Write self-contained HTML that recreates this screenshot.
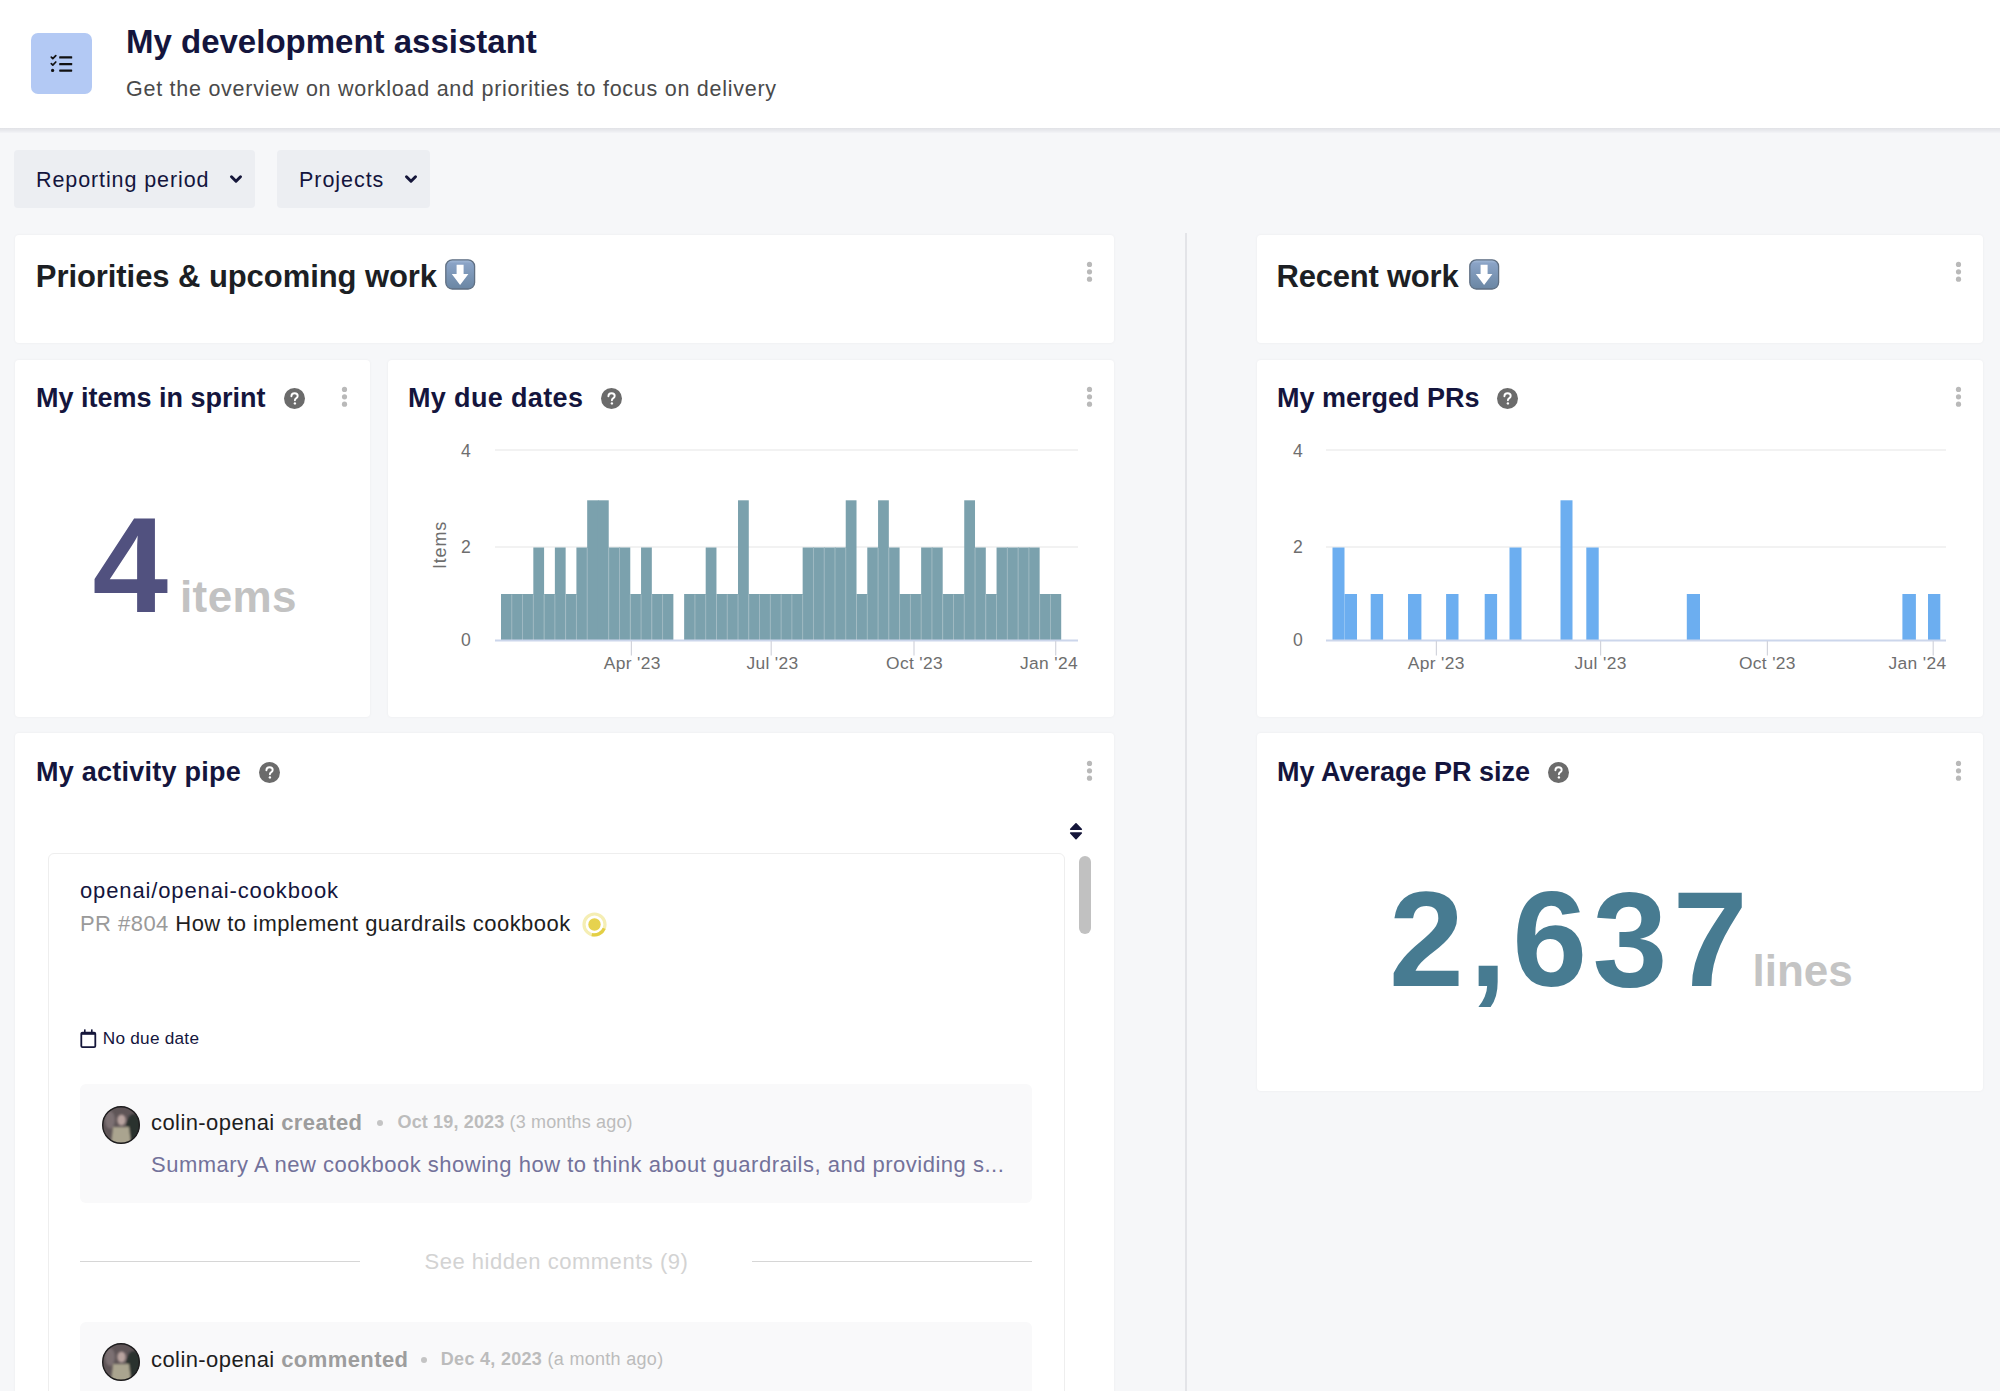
<!DOCTYPE html>
<html><head><meta charset="utf-8"><title>My development assistant</title>
<style>
html,body{margin:0;padding:0;}
body{width:2000px;height:1391px;overflow:hidden;position:relative;background:#f6f7f9;font-family:"Liberation Sans",sans-serif;}
.abs{position:absolute;}
.t{position:absolute;white-space:nowrap;line-height:1;}
.card{position:absolute;background:#fff;border-radius:4px;box-shadow:0 0 3px rgba(0,0,0,0.05);}
</style></head><body>
<div class="abs" style="left:0;top:128px;width:2000px;height:5px;background:linear-gradient(#e1e2e6,#e9eaee 50%,#f3f4f7);"></div><div class="abs" style="left:0;top:0;width:2000px;height:128px;background:#fff;"></div><div class="abs" style="left:31px;top:33px;width:61px;height:61px;border-radius:7px;background:#b3c9f4;"></div><svg class="abs" style="left:48px;top:52px" width="26" height="24" viewBox="0 0 26 24"><path d="M3.3 5.2 L4.8 6.7 L7.8 3.6" stroke="#111" stroke-width="1.7" fill="none" stroke-linecap="round" stroke-linejoin="round"/><path d="M3.3 11.6 L4.8 13.1 L7.8 10" stroke="#111" stroke-width="1.7" fill="none" stroke-linecap="round" stroke-linejoin="round"/><circle cx="4.6" cy="18.4" r="1.6" fill="#111"/><rect x="11.2" y="4.2" width="13" height="2.3" rx="0.6" fill="#111"/><rect x="11.2" y="11" width="13" height="2.3" rx="0.6" fill="#111"/><rect x="11.2" y="17.4" width="13" height="2.3" rx="0.6" fill="#111"/></svg><div class="t" style="left:126px;top:25.06px;font-size:33px;font-weight:700;color:#14153d;letter-spacing:0px;">My development assistant</div><div class="t" style="left:126px;top:79.30px;font-size:21.5px;font-weight:400;color:#4a4a4a;letter-spacing:0.74px;">Get the overview on workload and priorities to focus on delivery</div><div class="abs" style="left:14px;top:150px;width:241px;height:58px;border-radius:4px;background:#eceef2;"></div><div class="abs" style="left:277px;top:150px;width:153px;height:58px;border-radius:4px;background:#eceef2;"></div><div class="t" style="left:36px;top:169.60px;font-size:21.5px;font-weight:400;color:#14153d;letter-spacing:0.9px;">Reporting period</div><svg class="abs" style="left:229px;top:174px" width="14" height="10" viewBox="0 0 14 10"><path d="M2.5 2.8 L7 7.2 L11.5 2.8" stroke="#15163a" stroke-width="3" fill="none" stroke-linecap="round" stroke-linejoin="round"/></svg><div class="t" style="left:299px;top:169.60px;font-size:21.5px;font-weight:400;color:#14153d;letter-spacing:0.95px;">Projects</div><svg class="abs" style="left:404px;top:174px" width="14" height="10" viewBox="0 0 14 10"><path d="M2.5 2.8 L7 7.2 L11.5 2.8" stroke="#15163a" stroke-width="3" fill="none" stroke-linecap="round" stroke-linejoin="round"/></svg><div class="abs" style="left:1185px;top:233px;width:2px;height:1160px;background:#e3e4e8;"></div><div class="card" style="left:15px;top:234.5px;width:1099px;height:108.5px;"></div><div class="t" style="left:35.8px;top:260.75px;font-size:31px;font-weight:700;color:#1c1f24;letter-spacing:-0.07px;">Priorities &amp; upcoming work</div><svg class="abs" style="left:445px;top:259px" width="31" height="31" viewBox="0 0 31 31"><defs><linearGradient id="eg445" x1="0" y1="0" x2="0" y2="1"><stop offset="0" stop-color="#a9bfdc"/><stop offset="0.12" stop-color="#8aa3c6"/><stop offset="1" stop-color="#6a86a3"/></linearGradient></defs><rect x="0.8" y="0.8" width="28.8" height="29.2" rx="6.5" fill="url(#eg445)" stroke="#5f6f82" stroke-width="1.3"/><path d="M11.6 5.8 H18.6 V15 H23.4 L15.1 26 L6.8 15 H11.6 Z" fill="#fff"/></svg><svg class="abs" style="left:1085px;top:260px" width="8" height="24" viewBox="0 0 8 24"><circle cx="4.5" cy="4.4" r="2.6" fill="#b9b9b9"/><circle cx="4.5" cy="11.8" r="2.6" fill="#b9b9b9"/><circle cx="4.5" cy="19.2" r="2.6" fill="#b9b9b9"/></svg><div class="card" style="left:1257px;top:234.5px;width:726px;height:108.5px;"></div><div class="t" style="left:1276.5px;top:260.75px;font-size:31px;font-weight:700;color:#1c1f24;letter-spacing:-0.22px;">Recent work</div><svg class="abs" style="left:1469px;top:259px" width="31" height="31" viewBox="0 0 31 31"><defs><linearGradient id="eg1469" x1="0" y1="0" x2="0" y2="1"><stop offset="0" stop-color="#a9bfdc"/><stop offset="0.12" stop-color="#8aa3c6"/><stop offset="1" stop-color="#6a86a3"/></linearGradient></defs><rect x="0.8" y="0.8" width="28.8" height="29.2" rx="6.5" fill="url(#eg1469)" stroke="#5f6f82" stroke-width="1.3"/><path d="M11.6 5.8 H18.6 V15 H23.4 L15.1 26 L6.8 15 H11.6 Z" fill="#fff"/></svg><svg class="abs" style="left:1954px;top:260px" width="8" height="24" viewBox="0 0 8 24"><circle cx="4.5" cy="4.4" r="2.6" fill="#b9b9b9"/><circle cx="4.5" cy="11.8" r="2.6" fill="#b9b9b9"/><circle cx="4.5" cy="19.2" r="2.6" fill="#b9b9b9"/></svg><div class="card" style="left:15px;top:360px;width:355px;height:357px;"></div><div class="t" style="left:36px;top:384.94px;font-size:27px;font-weight:700;color:#14153d;letter-spacing:0px;">My items in sprint</div><svg class="abs" style="left:283.5px;top:387.5px" width="21.0" height="21.0" viewBox="0 0 21 21"><circle cx="10.5" cy="10.5" r="10.5" fill="#6b6b6b"/><path d="M7.4 8.2 C7.4 6.3 8.8 5.2 10.6 5.2 C12.5 5.2 13.7 6.4 13.7 7.9 C13.7 9.2 12.9 9.8 12 10.4 C11.2 10.9 10.9 11.3 10.9 12.3" stroke="#fff" stroke-width="1.9" fill="none" stroke-linecap="round"/><circle cx="10.9" cy="15.4" r="1.2" fill="#fff"/></svg><svg class="abs" style="left:340px;top:385px" width="8" height="24" viewBox="0 0 8 24"><circle cx="4.5" cy="4.4" r="2.6" fill="#b9b9b9"/><circle cx="4.5" cy="11.8" r="2.6" fill="#b9b9b9"/><circle cx="4.5" cy="19.2" r="2.6" fill="#b9b9b9"/></svg><div class="t" style="left:92.5px;top:497.15px;font-size:136px;font-weight:700;color:#51517f;letter-spacing:0px;">4</div><div class="t" style="left:180px;top:575.05px;font-size:44px;font-weight:700;color:#c2c2c2;letter-spacing:0.4px;">items</div><div class="card" style="left:388px;top:360px;width:726px;height:357px;"></div><div class="t" style="left:408px;top:384.94px;font-size:27px;font-weight:700;color:#14153d;letter-spacing:0.35px;">My due dates</div><svg class="abs" style="left:600.5px;top:387.5px" width="21.0" height="21.0" viewBox="0 0 21 21"><circle cx="10.5" cy="10.5" r="10.5" fill="#6b6b6b"/><path d="M7.4 8.2 C7.4 6.3 8.8 5.2 10.6 5.2 C12.5 5.2 13.7 6.4 13.7 7.9 C13.7 9.2 12.9 9.8 12 10.4 C11.2 10.9 10.9 11.3 10.9 12.3" stroke="#fff" stroke-width="1.9" fill="none" stroke-linecap="round"/><circle cx="10.9" cy="15.4" r="1.2" fill="#fff"/></svg><svg class="abs" style="left:1085px;top:385px" width="8" height="24" viewBox="0 0 8 24"><circle cx="4.5" cy="4.4" r="2.6" fill="#b9b9b9"/><circle cx="4.5" cy="11.8" r="2.6" fill="#b9b9b9"/><circle cx="4.5" cy="19.2" r="2.6" fill="#b9b9b9"/></svg><div class="card" style="left:1257px;top:360px;width:726px;height:357px;"></div><div class="t" style="left:1277px;top:384.94px;font-size:27px;font-weight:700;color:#14153d;letter-spacing:0px;">My merged PRs</div><svg class="abs" style="left:1496.5px;top:387.5px" width="21.0" height="21.0" viewBox="0 0 21 21"><circle cx="10.5" cy="10.5" r="10.5" fill="#6b6b6b"/><path d="M7.4 8.2 C7.4 6.3 8.8 5.2 10.6 5.2 C12.5 5.2 13.7 6.4 13.7 7.9 C13.7 9.2 12.9 9.8 12 10.4 C11.2 10.9 10.9 11.3 10.9 12.3" stroke="#fff" stroke-width="1.9" fill="none" stroke-linecap="round"/><circle cx="10.9" cy="15.4" r="1.2" fill="#fff"/></svg><svg class="abs" style="left:1954px;top:385px" width="8" height="24" viewBox="0 0 8 24"><circle cx="4.5" cy="4.4" r="2.6" fill="#b9b9b9"/><circle cx="4.5" cy="11.8" r="2.6" fill="#b9b9b9"/><circle cx="4.5" cy="19.2" r="2.6" fill="#b9b9b9"/></svg><div class="card" style="left:15px;top:733px;width:1099px;height:687px;"></div><div class="t" style="left:36px;top:759.14px;font-size:27px;font-weight:700;color:#14153d;letter-spacing:0.25px;">My activity pipe</div><svg class="abs" style="left:259.0px;top:762.0px" width="21.0" height="21.0" viewBox="0 0 21 21"><circle cx="10.5" cy="10.5" r="10.5" fill="#6b6b6b"/><path d="M7.4 8.2 C7.4 6.3 8.8 5.2 10.6 5.2 C12.5 5.2 13.7 6.4 13.7 7.9 C13.7 9.2 12.9 9.8 12 10.4 C11.2 10.9 10.9 11.3 10.9 12.3" stroke="#fff" stroke-width="1.9" fill="none" stroke-linecap="round"/><circle cx="10.9" cy="15.4" r="1.2" fill="#fff"/></svg><svg class="abs" style="left:1085px;top:759px" width="8" height="24" viewBox="0 0 8 24"><circle cx="4.5" cy="4.4" r="2.6" fill="#b9b9b9"/><circle cx="4.5" cy="11.8" r="2.6" fill="#b9b9b9"/><circle cx="4.5" cy="19.2" r="2.6" fill="#b9b9b9"/></svg><svg class="abs" style="left:1068px;top:821px" width="16" height="20" viewBox="0 0 16 20"><path d="M8 2.8 L13.3 8.2 H2.7 Z" fill="#15163a" stroke="#15163a" stroke-width="1.6" stroke-linejoin="round"/><path d="M8 17.6 L13.3 12 H2.7 Z" fill="#15163a" stroke="#15163a" stroke-width="1.6" stroke-linejoin="round"/></svg><div class="abs" style="left:1079px;top:856px;width:12px;height:78px;border-radius:6px;background:#c1c1c1;"></div><div class="abs" style="left:48px;top:853px;width:1017px;height:600px;border:1px solid #eeeeee;border-radius:6px;background:#fff;box-sizing:border-box;"></div><div class="t" style="left:80px;top:880.37px;font-size:22px;font-weight:400;color:#14153d;letter-spacing:0.87px;">openai/openai-cookbook</div><div class="t" style="left:80px;top:913.17px;font-size:22px;font-weight:400;color:#1e1e1e;letter-spacing:0.45px;"><span style="color:#9a9a9a">PR #804</span> How to implement guardrails cookbook</div><svg class="abs" style="left:582px;top:912px" width="25" height="25" viewBox="0 0 25 25"><circle cx="12.5" cy="12.5" r="10.5" fill="none" stroke="#f5eeb4" stroke-width="3.2"/><path d="M22.2 16.3 A10.5 10.5 0 0 1 9.8 22.6" fill="none" stroke="#e3cf45" stroke-width="3.2"/><circle cx="12.5" cy="12.5" r="6.2" fill="#e6d24e"/></svg><svg class="abs" style="left:80px;top:1029px" width="18" height="20" viewBox="0 0 18 20"><rect x="1.3" y="3.6" width="14" height="14.6" rx="1.2" fill="none" stroke="#15163a" stroke-width="1.8"/><rect x="1.3" y="3.6" width="14" height="2.2" fill="#15163a"/><rect x="4" y="0.4" width="1.6" height="3.6" fill="#15163a"/><rect x="11" y="0.4" width="1.6" height="3.6" fill="#15163a"/></svg><div class="t" style="left:102.8px;top:1030.24px;font-size:17.2px;font-weight:400;color:#14153d;letter-spacing:0.25px;">No due date</div><div class="abs" style="left:80px;top:1084px;width:952px;height:119px;border-radius:6px;background:#f9f9fa;"></div><svg class="abs" style="left:102px;top:1106px" width="38" height="38" viewBox="0 0 38 38"><defs><clipPath id="avc1106"><circle cx="19" cy="19" r="18.5"/></clipPath><filter id="avb1106" x="-20%" y="-20%" width="140%" height="140%"><feGaussianBlur stdDeviation="1.3"/></filter></defs><g clip-path="url(#avc1106)"><rect width="38" height="38" fill="#5f5557"/><g filter="url(#avb1106)"><ellipse cx="32" cy="22" rx="8" ry="14" fill="#2b302f"/><ellipse cx="19.5" cy="14" rx="4.2" ry="5.5" fill="#b8a39f"/><path d="M11 21 H27 L29 38 H9 Z" fill="#aaa48f"/><ellipse cx="8" cy="14" rx="5" ry="9" fill="#7b7072"/></g></g><circle cx="19" cy="19" r="18.3" fill="none" stroke="#1e1d1e" stroke-width="1.4"/></svg><div class="t" style="left:151px;top:1112.37px;font-size:22px;font-weight:400;color:#1e1e1e;letter-spacing:0.42px;">colin-openai <span style="color:#9d9d9d;font-weight:700">created</span></div><div class="abs" style="left:377px;top:1119.5px;width:6px;height:6px;border-radius:3px;background:#c4c4c4;"></div><div class="t" style="left:397.5px;top:1112.76px;font-size:18px;font-weight:400;color:#bcbcbc;letter-spacing:0.15px;"><span style="font-weight:700">Oct 19, 2023</span> (3 months ago)</div><div class="t" style="left:151px;top:1153.87px;font-size:22px;font-weight:400;color:#73729a;letter-spacing:0.5px;">Summary A new cookbook showing how to think about guardrails, and providing s...</div><div class="abs" style="left:80px;top:1260.5px;width:280px;height:1.5px;background:#d6d6d6;"></div><div class="abs" style="left:752px;top:1260.5px;width:280px;height:1.5px;background:#d6d6d6;"></div><div class="t" style="left:424.5px;top:1251.17px;font-size:22px;font-weight:400;color:#d3d3d3;letter-spacing:0.52px;">See hidden comments (9)</div><div class="abs" style="left:80px;top:1322px;width:952px;height:119px;border-radius:6px;background:#f9f9fa;"></div><svg class="abs" style="left:102px;top:1343px" width="38" height="38" viewBox="0 0 38 38"><defs><clipPath id="avc1343"><circle cx="19" cy="19" r="18.5"/></clipPath><filter id="avb1343" x="-20%" y="-20%" width="140%" height="140%"><feGaussianBlur stdDeviation="1.3"/></filter></defs><g clip-path="url(#avc1343)"><rect width="38" height="38" fill="#5f5557"/><g filter="url(#avb1343)"><ellipse cx="32" cy="22" rx="8" ry="14" fill="#2b302f"/><ellipse cx="19.5" cy="14" rx="4.2" ry="5.5" fill="#b8a39f"/><path d="M11 21 H27 L29 38 H9 Z" fill="#aaa48f"/><ellipse cx="8" cy="14" rx="5" ry="9" fill="#7b7072"/></g></g><circle cx="19" cy="19" r="18.3" fill="none" stroke="#1e1d1e" stroke-width="1.4"/></svg><div class="t" style="left:151px;top:1349.37px;font-size:22px;font-weight:400;color:#1e1e1e;letter-spacing:0.42px;">colin-openai <span style="color:#9d9d9d;font-weight:700">commented</span></div><div class="abs" style="left:421px;top:1356.5px;width:6px;height:6px;border-radius:3px;background:#c4c4c4;"></div><div class="t" style="left:440.8px;top:1350.26px;font-size:18px;font-weight:400;color:#bcbcbc;letter-spacing:0.3px;"><span style="font-weight:700">Dec 4, 2023</span> (a month ago)</div><div class="card" style="left:1257px;top:733px;width:726px;height:358px;"></div><div class="t" style="left:1277px;top:759.14px;font-size:27px;font-weight:700;color:#14153d;letter-spacing:0px;">My Average PR size</div><svg class="abs" style="left:1548.0px;top:762.0px" width="21.0" height="21.0" viewBox="0 0 21 21"><circle cx="10.5" cy="10.5" r="10.5" fill="#6b6b6b"/><path d="M7.4 8.2 C7.4 6.3 8.8 5.2 10.6 5.2 C12.5 5.2 13.7 6.4 13.7 7.9 C13.7 9.2 12.9 9.8 12 10.4 C11.2 10.9 10.9 11.3 10.9 12.3" stroke="#fff" stroke-width="1.9" fill="none" stroke-linecap="round"/><circle cx="10.9" cy="15.4" r="1.2" fill="#fff"/></svg><svg class="abs" style="left:1954px;top:759px" width="8" height="24" viewBox="0 0 8 24"><circle cx="4.5" cy="4.4" r="2.6" fill="#b9b9b9"/><circle cx="4.5" cy="11.8" r="2.6" fill="#b9b9b9"/><circle cx="4.5" cy="19.2" r="2.6" fill="#b9b9b9"/></svg><div class="t" style="left:1389px;top:873.45px;font-size:134.7px;font-weight:700;color:#477b91;letter-spacing:5.4px;">2,637</div><div class="t" style="left:1752.5px;top:949.25px;font-size:44px;font-weight:700;color:#c4c4c4;letter-spacing:0px;">lines</div>
<svg class="abs" style="left:0;top:0" width="2000" height="1391" viewBox="0 0 2000 1391" font-family="Liberation Sans, sans-serif"><line x1="495" y1="450" x2="1078" y2="450" stroke="#e6e6e6" stroke-width="1.2"/><line x1="495" y1="547" x2="1078" y2="547" stroke="#e6e6e6" stroke-width="1.2"/><rect x="501.00" y="594.0" width="11.37" height="46.0" fill="#7ba1ad"/><rect x="511.77" y="594.0" width="11.37" height="46.0" fill="#7ba1ad"/><rect x="522.55" y="594.0" width="11.37" height="46.0" fill="#7ba1ad"/><rect x="533.32" y="547.5" width="10.77" height="92.5" fill="#7ba1ad"/><rect x="544.09" y="594.0" width="11.37" height="46.0" fill="#7ba1ad"/><rect x="554.87" y="547.5" width="10.77" height="92.5" fill="#7ba1ad"/><rect x="565.64" y="594.0" width="11.37" height="46.0" fill="#7ba1ad"/><rect x="576.41" y="547.5" width="11.37" height="92.5" fill="#7ba1ad"/><rect x="587.18" y="500.3" width="11.37" height="139.7" fill="#7ba1ad"/><rect x="597.96" y="500.3" width="10.77" height="139.7" fill="#7ba1ad"/><rect x="608.73" y="547.5" width="11.37" height="92.5" fill="#7ba1ad"/><rect x="619.50" y="547.5" width="10.77" height="92.5" fill="#7ba1ad"/><rect x="630.28" y="594.0" width="11.37" height="46.0" fill="#7ba1ad"/><rect x="641.05" y="547.5" width="10.77" height="92.5" fill="#7ba1ad"/><rect x="651.82" y="594.0" width="11.37" height="46.0" fill="#7ba1ad"/><rect x="662.60" y="594.0" width="10.77" height="46.0" fill="#7ba1ad"/><rect x="684.14" y="594.0" width="11.37" height="46.0" fill="#7ba1ad"/><rect x="694.92" y="594.0" width="11.37" height="46.0" fill="#7ba1ad"/><rect x="705.69" y="547.5" width="10.77" height="92.5" fill="#7ba1ad"/><rect x="716.46" y="594.0" width="11.37" height="46.0" fill="#7ba1ad"/><rect x="727.23" y="594.0" width="11.37" height="46.0" fill="#7ba1ad"/><rect x="738.01" y="500.3" width="10.77" height="139.7" fill="#7ba1ad"/><rect x="748.78" y="594.0" width="11.37" height="46.0" fill="#7ba1ad"/><rect x="759.55" y="594.0" width="11.37" height="46.0" fill="#7ba1ad"/><rect x="770.33" y="594.0" width="11.37" height="46.0" fill="#7ba1ad"/><rect x="781.10" y="594.0" width="11.37" height="46.0" fill="#7ba1ad"/><rect x="791.87" y="594.0" width="11.37" height="46.0" fill="#7ba1ad"/><rect x="802.65" y="547.5" width="11.37" height="92.5" fill="#7ba1ad"/><rect x="813.42" y="547.5" width="11.37" height="92.5" fill="#7ba1ad"/><rect x="824.19" y="547.5" width="11.37" height="92.5" fill="#7ba1ad"/><rect x="834.97" y="547.5" width="11.37" height="92.5" fill="#7ba1ad"/><rect x="845.74" y="500.3" width="10.77" height="139.7" fill="#7ba1ad"/><rect x="856.51" y="594.0" width="11.37" height="46.0" fill="#7ba1ad"/><rect x="867.28" y="547.5" width="11.37" height="92.5" fill="#7ba1ad"/><rect x="878.06" y="500.3" width="10.77" height="139.7" fill="#7ba1ad"/><rect x="888.83" y="547.5" width="10.77" height="92.5" fill="#7ba1ad"/><rect x="899.60" y="594.0" width="11.37" height="46.0" fill="#7ba1ad"/><rect x="910.38" y="594.0" width="11.37" height="46.0" fill="#7ba1ad"/><rect x="921.15" y="547.5" width="11.37" height="92.5" fill="#7ba1ad"/><rect x="931.92" y="547.5" width="10.77" height="92.5" fill="#7ba1ad"/><rect x="942.70" y="594.0" width="11.37" height="46.0" fill="#7ba1ad"/><rect x="953.47" y="594.0" width="11.37" height="46.0" fill="#7ba1ad"/><rect x="964.24" y="500.3" width="10.77" height="139.7" fill="#7ba1ad"/><rect x="975.02" y="547.5" width="10.77" height="92.5" fill="#7ba1ad"/><rect x="985.79" y="594.0" width="11.37" height="46.0" fill="#7ba1ad"/><rect x="996.56" y="547.5" width="11.37" height="92.5" fill="#7ba1ad"/><rect x="1007.33" y="547.5" width="11.37" height="92.5" fill="#7ba1ad"/><rect x="1018.11" y="547.5" width="11.37" height="92.5" fill="#7ba1ad"/><rect x="1028.88" y="547.5" width="10.77" height="92.5" fill="#7ba1ad"/><rect x="1039.65" y="594.0" width="11.37" height="46.0" fill="#7ba1ad"/><rect x="1050.43" y="594.0" width="10.77" height="46.0" fill="#7ba1ad"/><rect x="511.32" y="594.5" width="0.9" height="45.5" fill="#a3bcc4"/><rect x="522.10" y="594.5" width="0.9" height="45.5" fill="#a3bcc4"/><rect x="532.87" y="594.5" width="0.9" height="45.5" fill="#a3bcc4"/><rect x="543.64" y="594.5" width="0.9" height="45.5" fill="#a3bcc4"/><rect x="554.42" y="594.5" width="0.9" height="45.5" fill="#a3bcc4"/><rect x="565.19" y="594.5" width="0.9" height="45.5" fill="#a3bcc4"/><rect x="575.96" y="594.5" width="0.9" height="45.5" fill="#a3bcc4"/><rect x="586.73" y="548.0" width="0.9" height="92.0" fill="#a3bcc4"/><rect x="608.28" y="548.0" width="0.9" height="92.0" fill="#a3bcc4"/><rect x="619.05" y="548.0" width="0.9" height="92.0" fill="#a3bcc4"/><rect x="629.83" y="594.5" width="0.9" height="45.5" fill="#a3bcc4"/><rect x="640.60" y="594.5" width="0.9" height="45.5" fill="#a3bcc4"/><rect x="651.37" y="594.5" width="0.9" height="45.5" fill="#a3bcc4"/><rect x="662.15" y="594.5" width="0.9" height="45.5" fill="#a3bcc4"/><rect x="694.47" y="594.5" width="0.9" height="45.5" fill="#a3bcc4"/><rect x="705.24" y="594.5" width="0.9" height="45.5" fill="#a3bcc4"/><rect x="716.01" y="594.5" width="0.9" height="45.5" fill="#a3bcc4"/><rect x="726.78" y="594.5" width="0.9" height="45.5" fill="#a3bcc4"/><rect x="737.56" y="594.5" width="0.9" height="45.5" fill="#a3bcc4"/><rect x="748.33" y="594.5" width="0.9" height="45.5" fill="#a3bcc4"/><rect x="759.10" y="594.5" width="0.9" height="45.5" fill="#a3bcc4"/><rect x="769.88" y="594.5" width="0.9" height="45.5" fill="#a3bcc4"/><rect x="780.65" y="594.5" width="0.9" height="45.5" fill="#a3bcc4"/><rect x="791.42" y="594.5" width="0.9" height="45.5" fill="#a3bcc4"/><rect x="802.20" y="594.5" width="0.9" height="45.5" fill="#a3bcc4"/><rect x="812.97" y="548.0" width="0.9" height="92.0" fill="#a3bcc4"/><rect x="823.74" y="548.0" width="0.9" height="92.0" fill="#a3bcc4"/><rect x="834.52" y="548.0" width="0.9" height="92.0" fill="#a3bcc4"/><rect x="845.29" y="548.0" width="0.9" height="92.0" fill="#a3bcc4"/><rect x="856.06" y="594.5" width="0.9" height="45.5" fill="#a3bcc4"/><rect x="866.83" y="594.5" width="0.9" height="45.5" fill="#a3bcc4"/><rect x="877.61" y="548.0" width="0.9" height="92.0" fill="#a3bcc4"/><rect x="888.38" y="548.0" width="0.9" height="92.0" fill="#a3bcc4"/><rect x="899.15" y="594.5" width="0.9" height="45.5" fill="#a3bcc4"/><rect x="909.93" y="594.5" width="0.9" height="45.5" fill="#a3bcc4"/><rect x="920.70" y="594.5" width="0.9" height="45.5" fill="#a3bcc4"/><rect x="931.47" y="548.0" width="0.9" height="92.0" fill="#a3bcc4"/><rect x="942.25" y="594.5" width="0.9" height="45.5" fill="#a3bcc4"/><rect x="953.02" y="594.5" width="0.9" height="45.5" fill="#a3bcc4"/><rect x="963.79" y="594.5" width="0.9" height="45.5" fill="#a3bcc4"/><rect x="974.57" y="548.0" width="0.9" height="92.0" fill="#a3bcc4"/><rect x="985.34" y="594.5" width="0.9" height="45.5" fill="#a3bcc4"/><rect x="996.11" y="594.5" width="0.9" height="45.5" fill="#a3bcc4"/><rect x="1006.88" y="548.0" width="0.9" height="92.0" fill="#a3bcc4"/><rect x="1017.66" y="548.0" width="0.9" height="92.0" fill="#a3bcc4"/><rect x="1028.43" y="548.0" width="0.9" height="92.0" fill="#a3bcc4"/><rect x="1039.20" y="594.5" width="0.9" height="45.5" fill="#a3bcc4"/><rect x="1049.98" y="594.5" width="0.9" height="45.5" fill="#a3bcc4"/><line x1="495" y1="640.5" x2="1078" y2="640.5" stroke="#ccd6eb" stroke-width="2"/><text x="466" y="457" text-anchor="middle" font-size="17.6" fill="#6e6e6e">4</text><text x="466" y="553" text-anchor="middle" font-size="17.6" fill="#6e6e6e">2</text><text x="466" y="646" text-anchor="middle" font-size="17.6" fill="#6e6e6e">0</text><text transform="translate(445.5,545) rotate(-90)" text-anchor="middle" font-size="18" letter-spacing="0.8" fill="#6e6e6e">Items</text><line x1="631.4" y1="641" x2="631.4" y2="655.5" stroke="#d2d4dc" stroke-width="1.2"/><text x="632.3" y="669" text-anchor="middle" font-size="17.4" letter-spacing="0.35" fill="#6e6e6e">Apr '23</text><line x1="771.2" y1="641" x2="771.2" y2="655.5" stroke="#d2d4dc" stroke-width="1.2"/><text x="772.5" y="669" text-anchor="middle" font-size="17.4" letter-spacing="0.35" fill="#6e6e6e">Jul '23</text><line x1="914" y1="641" x2="914" y2="655.5" stroke="#d2d4dc" stroke-width="1.2"/><text x="914.5" y="669" text-anchor="middle" font-size="17.4" letter-spacing="0.35" fill="#6e6e6e">Oct '23</text><line x1="1055.7" y1="641" x2="1055.7" y2="655.5" stroke="#d2d4dc" stroke-width="1.2"/><text x="1049" y="669" text-anchor="middle" font-size="17.4" letter-spacing="0.35" fill="#6e6e6e">Jan '24</text><line x1="1326" y1="450" x2="1946" y2="450" stroke="#e6e6e6" stroke-width="1.2"/><line x1="1326" y1="547" x2="1946" y2="547" stroke="#e6e6e6" stroke-width="1.2"/><rect x="1332.5" y="547.5" width="12.0" height="92.5" fill="#6caef0"/><rect x="1344.5" y="594.0" width="12.5" height="46.0" fill="#6caef0"/><rect x="1370.7" y="594.0" width="12.4" height="46.0" fill="#6caef0"/><rect x="1408" y="594.0" width="13.4" height="46.0" fill="#6caef0"/><rect x="1446.1" y="594.0" width="12.4" height="46.0" fill="#6caef0"/><rect x="1484.7" y="594.0" width="12.4" height="46.0" fill="#6caef0"/><rect x="1509.5" y="547.5" width="12.0" height="92.5" fill="#6caef0"/><rect x="1560.5" y="500.3" width="12.0" height="139.7" fill="#6caef0"/><rect x="1586.3" y="547.5" width="12.4" height="92.5" fill="#6caef0"/><rect x="1686.8" y="594.0" width="13.2" height="46.0" fill="#6caef0"/><rect x="1902.4" y="594.0" width="13.5" height="46.0" fill="#6caef0"/><rect x="1928" y="594.0" width="12.3" height="46.0" fill="#6caef0"/><line x1="1326" y1="640.5" x2="1946" y2="640.5" stroke="#ccd6eb" stroke-width="2"/><text x="1298" y="457" text-anchor="middle" font-size="17.6" fill="#6e6e6e">4</text><text x="1298" y="553" text-anchor="middle" font-size="17.6" fill="#6e6e6e">2</text><text x="1298" y="646" text-anchor="middle" font-size="17.6" fill="#6e6e6e">0</text><line x1="1436.4" y1="641" x2="1436.4" y2="655.5" stroke="#d2d4dc" stroke-width="1.2"/><text x="1436.2" y="669" text-anchor="middle" font-size="17.4" letter-spacing="0.35" fill="#6e6e6e">Apr '23</text><line x1="1600.6" y1="641" x2="1600.6" y2="655.5" stroke="#d2d4dc" stroke-width="1.2"/><text x="1600.6" y="669" text-anchor="middle" font-size="17.4" letter-spacing="0.35" fill="#6e6e6e">Jul '23</text><line x1="1767.4" y1="641" x2="1767.4" y2="655.5" stroke="#d2d4dc" stroke-width="1.2"/><text x="1767.4" y="669" text-anchor="middle" font-size="17.4" letter-spacing="0.35" fill="#6e6e6e">Oct '23</text><line x1="1933.2" y1="641" x2="1933.2" y2="655.5" stroke="#d2d4dc" stroke-width="1.2"/><text x="1917.5" y="669" text-anchor="middle" font-size="17.4" letter-spacing="0.35" fill="#6e6e6e">Jan '24</text></svg>
</body></html>
